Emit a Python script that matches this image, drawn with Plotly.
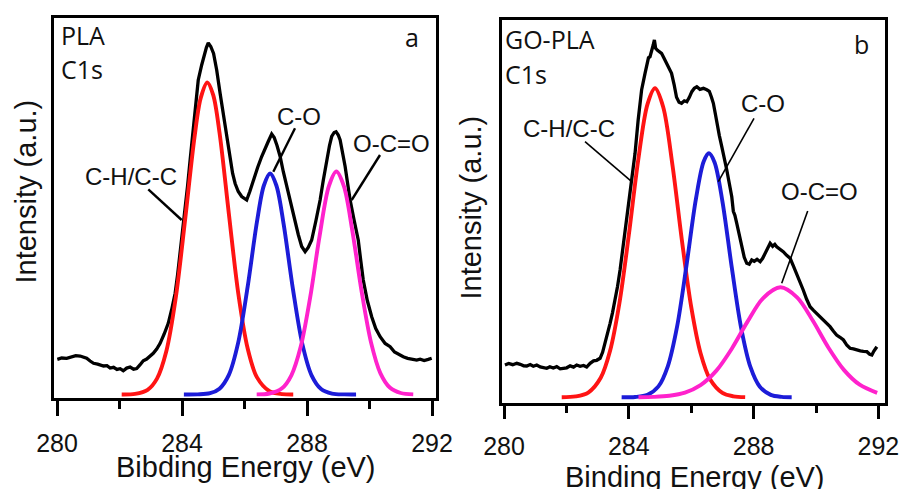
import plotly.graph_objects as go

W, H = 903, 489

# ---------------- data ----------------
tick_vals = [280, 284, 288, 292]
tick_text = ["280", "284", "288", "292"]

# Panel a: PLA C1s  (binding energy eV, intensity a.u.)
a_be = [280.01, 280.15, 280.31, 280.45, 280.60, 280.74, 280.85, 280.95, 281.06, 281.17,
        281.30, 281.40, 281.49, 281.60, 281.70, 281.81, 281.92, 282.02, 282.12, 282.23,
        282.34, 282.45, 282.55, 282.66, 282.76, 282.87, 282.97, 283.08, 283.19, 283.30,
        283.43, 283.56, 283.67, 283.78, 283.86, 283.94, 284.02, 284.10, 284.18, 284.26,
        284.34, 284.42, 284.52, 284.63, 284.70, 284.78, 284.84, 284.92, 285.01, 285.11,
        285.22, 285.30, 285.38, 285.46, 285.54, 285.62, 285.70, 285.80, 285.91, 286.00,
        286.07, 286.17, 286.28, 286.42, 286.55, 286.66, 286.76, 286.87, 286.95, 287.04,
        287.14, 287.24, 287.35, 287.48, 287.62, 287.72, 287.83, 287.94, 288.04, 288.15,
        288.28, 288.42, 288.52, 288.63, 288.72, 288.79, 288.87, 288.93, 289.00, 289.06,
        289.14, 289.22, 289.30, 289.38, 289.51, 289.64, 289.72, 289.80, 289.93, 290.07,
        290.20, 290.34, 290.50, 290.66, 290.80, 290.94, 291.08, 291.22, 291.36, 291.51,
        291.62, 291.75, 291.88, 291.99]
a_exp = [35.2, 36.5, 36.2, 37.8, 38.9, 38.5, 37.6, 36.2, 33.5, 31.2,
         30.4, 29.2, 28.5, 28.9, 26.5, 27.2, 25.1, 25.8, 23.8, 26.4,
         27.5, 25.3, 26.0, 29.8, 33.8, 35.5, 38.0, 41.2, 45.5, 51.2,
         60.5, 71.2, 85.0, 101.2, 120.0, 141.2, 162.0, 184.5, 209.0, 234.5,
         260.0, 284.5, 314.5, 329.5, 338.0, 347.0, 351.5, 348.0, 341.0, 324.5,
         301.0, 284.0, 268.0, 251.0, 234.5, 221.0, 211.0, 203.0, 198.0, 195.5,
         194.5, 203.0, 214.5, 227.0, 238.0, 247.0, 253.0, 260.5, 257.0, 249.0,
         238.0, 223.0, 208.0, 190.0, 174.5, 160.0, 148.0, 142.8, 147.0, 154.5,
         173.0, 194.5, 214.0, 234.5, 249.0, 258.0, 262.0, 262.8, 259.5, 254.5,
         243.0, 228.0, 211.0, 194.5, 174.0, 154.5, 134.0, 114.5, 94.0, 77.8,
         66.0, 57.8, 51.0, 47.8, 42.5, 40.0, 37.8, 36.2, 35.0, 34.5,
         35.4, 34.0, 35.1, 36.2]

a_chc_be = [282.07, 282.5, 282.9, 283.2, 283.5, 283.8, 284.1, 284.4, 284.6, 284.81,
            285.0, 285.2, 285.5, 285.8, 286.1, 286.4, 286.8, 287.2, 287.56]
a_chc = [0.06, 0.68, 4.7, 15.9, 43.5, 96.7, 174.9, 257.3, 296.6, 312.0,
         299.3, 262.0, 180.6, 101.3, 46.2, 17.1, 3.3, 0.44, 0.05]

a_co_be = [284.06, 284.5, 284.9, 285.2, 285.5, 285.8, 286.1, 286.4, 286.62, 286.82,
           287.02, 287.25, 287.55, 287.85, 288.15, 288.45, 288.8, 289.2, 289.57]
a_co = [0.0, 0.13, 1.3, 5.8, 19.6, 52.1, 107.6, 173.0, 209.0, 221.0,
        209.0, 170.9, 105.4, 50.6, 18.9, 5.5, 0.95, 0.08, 0.0]

a_oco_be = [286.39, 286.8, 287.2, 287.5, 287.8, 288.1, 288.4, 288.7, 288.94, 289.18,
            289.45, 289.75, 290.05, 290.35, 290.65, 291.0, 291.4]
a_oco = [0.1, 1.0, 6.2, 19.2, 47.9, 96.8, 157.9, 208.3, 223.0, 208.3,
         163.9, 102.6, 51.9, 21.2, 7.0, 1.5, 0.17]

# Panel b: GO-PLA C1s
b_be = [280.03, 280.15, 280.28, 280.41, 280.52, 280.63, 280.73, 280.84, 280.94, 281.05,
        281.16, 281.27, 281.37, 281.47, 281.58, 281.69, 281.80, 281.90, 282.01, 282.12,
        282.23, 282.33, 282.44, 282.55, 282.65, 282.76, 282.87, 282.97, 283.08, 283.16,
        283.24, 283.32, 283.40, 283.48, 283.56, 283.64, 283.72, 283.80, 283.88, 283.96,
        284.04, 284.12, 284.20, 284.30, 284.41, 284.52, 284.57, 284.63, 284.68, 284.74,
        284.78, 284.82, 284.86, 284.92, 285.00, 285.05, 285.13, 285.21, 285.29, 285.37,
        285.45, 285.53, 285.61, 285.69, 285.78, 285.86, 285.94, 286.02, 286.10, 286.18,
        286.28, 286.39, 286.50, 286.58, 286.65, 286.71, 286.77, 286.82, 286.90, 286.98,
        287.06, 287.14, 287.22, 287.30, 287.35, 287.40, 287.46, 287.54, 287.62, 287.70,
        287.78, 287.86, 287.94, 288.02, 288.11, 288.21, 288.29, 288.37, 288.45, 288.53,
        288.61, 288.68, 288.74, 288.84, 288.95, 289.06, 289.17, 289.28, 289.38, 289.48,
        289.59, 289.70, 289.81, 289.92, 290.02, 290.12, 290.23, 290.34, 290.45, 290.56,
        290.66, 290.77, 290.88, 290.99, 291.09, 291.20, 291.30, 291.42, 291.52, 291.63,
        291.72, 291.79, 291.85, 291.95]
b_exp = [32.3, 33.8, 32.6, 34.0, 33.0, 31.5, 31.3, 32.8, 31.0, 32.3,
         30.4, 29.6, 29.0, 30.6, 29.3, 30.6, 28.5, 29.0, 29.5, 31.4,
         30.2, 32.3, 31.0, 31.8, 30.3, 34.0, 36.5, 37.0, 39.0, 45.0,
         54.0, 63.0, 74.0, 85.0, 97.3, 111.0, 127.3, 147.0, 167.3, 187.0,
         207.3, 226.0, 244.0, 277.3, 307.3, 324.0, 333.0, 339.5, 340.6, 346.0,
         352.0, 357.3, 349.0, 347.0, 345.0, 344.0, 339.0, 334.0, 329.0, 324.0,
         313.0, 300.0, 295.0, 294.0, 296.5, 295.6, 300.0, 305.6, 309.0, 310.6,
         308.0, 309.0, 307.5, 306.0, 300.0, 294.0, 284.0, 274.0, 262.0, 250.6,
         240.0, 227.3, 214.0, 200.6, 186.0, 182.0, 174.0, 162.0, 150.6, 140.0,
         134.0, 133.0, 137.3, 136.0, 138.0, 135.6, 139.0, 144.0, 150.0, 154.0,
         151.0, 153.0, 150.6, 148.5, 145.6, 142.0, 139.0, 131.0, 124.0, 116.0,
         107.3, 98.0, 90.6, 87.0, 84.0, 80.0, 77.3, 74.0, 70.6, 66.0,
         62.3, 60.0, 57.3, 52.0, 49.0, 48.5, 47.3, 46.5, 46.0, 45.6,
         43.0, 42.3, 46.0, 50.6]

b_chc_be = [281.85, 282.3, 282.7, 283.1, 283.4, 283.7, 284.0, 284.3, 284.6, 284.84,
            285.1, 285.4, 285.7, 286.0, 286.3, 286.6, 287.0, 287.35, 287.73]
b_chc = [0.09, 0.86, 4.7, 19.5, 46.5, 94.3, 162.2, 236.8, 293.2, 309.0,
         290.5, 232.1, 157.3, 90.4, 44.1, 18.3, 4.4, 0.98, 0.15]

b_co_be = [283.77, 284.2, 284.6, 284.95, 285.25, 285.55, 285.85, 286.15, 286.4, 286.57,
           286.75, 287.0, 287.3, 287.6, 287.9, 288.2, 288.55, 288.9, 289.22]
b_co = [0.02, 0.32, 2.5, 10.9, 31.0, 71.2, 132.2, 198.1, 235.8, 244.0,
        234.8, 196.0, 129.9, 69.5, 30.1, 10.5, 2.4, 0.4, 0.06]

b_oco_be = [284.31, 284.8, 285.3, 285.8, 286.3, 286.8, 287.3, 287.8, 288.3, 288.86,
            289.4, 289.9, 290.4, 290.9, 291.4, 291.96]
b_oco = [0.1, 0.43, 1.56, 4.7, 12.2, 26.4, 48.6, 75.4, 99.0, 110.0,
         99.7, 76.5, 49.6, 27.2, 12.6, 4.4]

# ---------------- styling / layout ----------------
RED, BLUE, MAG = "#ff1414", "#1c1cd8", "#ff22cc"
TXT = "#111111"
SANS = "Liberation Sans, Arial, sans-serif"
LBL = "Open Sans, sans-serif"


def px(x):
    return x / W


def py(y):
    return 1 - y / H


fig = go.Figure()


def add_panel(xa, ya, be, exp, comps):
    fig.add_trace(go.Scatter(x=be, y=exp, mode="lines", xaxis=xa, yaxis=ya,
                             line=dict(color="black", width=3.3), showlegend=False,
                             hoverinfo="skip"))
    for cx, cy, col in comps:
        fig.add_trace(go.Scatter(x=cx, y=cy, mode="lines", xaxis=xa, yaxis=ya,
                                 line=dict(color=col, width=3.9, shape="spline",
                                           smoothing=0.9),
                                 showlegend=False, hoverinfo="skip"))


add_panel("x", "y", a_be, a_exp, [(a_chc_be, a_chc, RED), (a_co_be, a_co, BLUE),
                                  (a_oco_be, a_oco, MAG)])
add_panel("x2", "y2", b_be, b_exp, [(b_chc_be, b_chc, RED), (b_co_be, b_co, BLUE),
                                    (b_oco_be, b_oco, MAG)])


def xaxis(dom, rng, ticklen, minorlen, anchor):
    return dict(domain=dom, range=rng, anchor=anchor, automargin=False,
                showline=True, mirror=True, linecolor="black",
                linewidth=3, ticks="outside", ticklen=ticklen, tickwidth=3,
                tickcolor="black", tickvals=tick_vals, ticktext=tick_text,
                tickfont=dict(family=SANS, size=25, color=TXT),
                ticklabelstandoff=6,
                minor=dict(tickvals=[282, 286, 290], ticks="outside", ticklen=minorlen,
                           tickwidth=3, tickcolor="black", showgrid=False),
                showgrid=False, zeroline=False, fixedrange=True)


def yaxis(dom, rng, anchor):
    return dict(domain=dom, range=rng, anchor=anchor, automargin=False,
                showline=True, mirror=True,
                linecolor="black", linewidth=3, ticks="", showticklabels=False,
                showgrid=False, zeroline=False, fixedrange=True)


ann = []


def text(x, y, s, size, font=SANS, angle=0):
    ann.append(dict(x=px(x), y=py(y), xref="paper", yref="paper", text=s,
                    showarrow=False, xanchor="center", yanchor="middle",
                    textangle=angle, font=dict(family=font, size=size, color=TXT)))


def ltext(x, y, s, size, font=LBL):
    ann.append(dict(x=px(x), y=py(y), xref="paper", yref="paper", text=s,
                    showarrow=False, xanchor="left", yanchor="middle",
                    font=dict(family=font, size=size, color=TXT)))


shapes = []


def leader(x0, y0, x1, y1, w):
    shapes.append(dict(type="line", xref="paper", yref="paper", x0=px(x0), y0=py(y0),
                       x1=px(x1), y1=py(y1), line=dict(color="black", width=w)))


# panel a labels
ltext(59, 35, "PLA", 25)
ltext(59, 69, "C1s", 25)
text(411.5, 37, "a", 25, font=LBL)
text(131, 176, "C-H/C-C", 24)
text(299, 117, "C-O", 24)
text(391.8, 143.8, "O-C=O", 24)
leader(148.3, 189.3, 181.7, 220, 2.4)
leader(295, 128.3, 273.3, 171.7, 2.4)
leader(380, 155, 351.7, 200, 2.4)
text(245.7, 467, "Bibding Energy (eV)", 29)
text(25, 191.5, "Intensity (a.u.)", 29, angle=-90)

# panel b labels
ltext(503, 39, "GO-PLA", 25)
ltext(503, 74, "C1s", 25)
text(861, 44, "b", 25, font=LBL)
text(569, 128.3, "C-H/C-C", 24)
text(763.3, 103.3, "C-O", 24)
text(819.2, 191.7, "O-C=O", 24)
leader(585, 141.7, 631.7, 181.7, 1.6)
leader(754, 118.3, 718.3, 181.7, 1.6)
leader(807.7, 211, 781.7, 283.3, 1.6)
text(695, 477, "Binding Energy (eV)", 29)
text(470.5, 208, "Intensity (a.u.)", 29, angle=-90)

fig.update_layout(
    width=W, height=H, margin=dict(l=0, r=0, t=0, b=0, pad=0, autoexpand=False),
    paper_bgcolor="white", plot_bgcolor="white", showlegend=False,
    xaxis=xaxis([53.5 / W, 435.5 / W], [279.888, 292.112], 15, 8, "y"),
    yaxis=yaxis([1 - 398 / H, 1 - 17.5 / H], [-3.5, 377.0], "x"),
    xaxis2=xaxis([501.5 / W, 884.5 / W], [279.92, 292.195], 13, 7, "y2"),
    yaxis2=yaxis([1 - 402.5 / H, 1 - 19.8 / H], [-5.2, 377.5], "x2"),
    annotations=ann, shapes=shapes,
)

fig.write_html("out.html", config={"displayModeBar": False},
               post_script="document.body.style.margin='0';"
                           "document.body.style.overflow='hidden';")
